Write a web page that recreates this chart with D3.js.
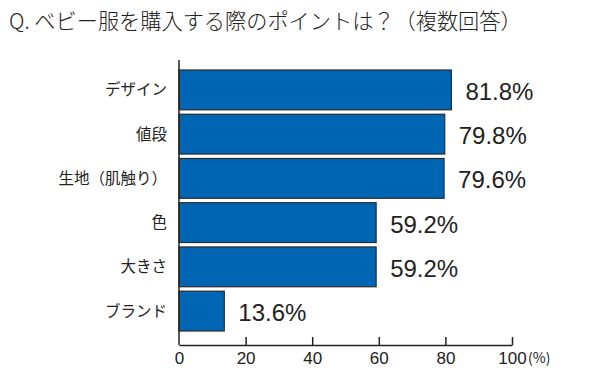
<!DOCTYPE html>
<html>
<head>
<meta charset="utf-8">
<script src="https://cdn.jsdelivr.net/npm/d3@7"></script>
<style>
  body { margin: 0; background: #fff; }
  svg { display: block; }
</style>
</head>
<body>
<div id="chart"></div>
<script>
const title = "Q. ベビー服を購入する際のポイントは？（複数回答）";
const categories = ["デザイン", "値段", "生地（肌触り）", "色", "大きさ", "ブランド"];
const values = [81.8, 79.8, 79.6, 59.2, 59.2, 13.6];
const ticks = [0, 20, 40, 60, 80, 100];

const width = 590, height = 378;
const jp = "'Noto Sans CJK JP', 'Noto Sans', sans-serif";
const num = "'Liberation Sans', Arial, sans-serif";

const svg = d3.select("#chart")
  .append("svg")
  .attr("width", width)
  .attr("height", height)
  .style("background-color", "white");

const x = d3.scaleLinear().domain([0, 100]).range([179, 512]);
const y = d3.scaleBand()
  .domain(categories)
  .range([67.8, 333.2])
  .paddingInner(0.1)
  .paddingOuter(0.05);

// title
svg.append("text")
  .attr("x", 9)
  .attr("y", 29)
  .style("font-family", jp)
  .style("font-size", "21.2px")
  .style("font-weight", 300)
  .attr("fill", "#222")
  .text(title);

// bars
svg.selectAll("rect.bar")
  .data(values)
  .enter()
  .append("rect")
  .attr("class", "bar")
  .attr("x", x(0))
  .attr("y", (d, i) => y(categories[i]))
  .attr("width", d => x(d) - x(0))
  .attr("height", y.bandwidth())
  .attr("fill", "#0066b3")
  .attr("stroke", "#2b2b2b")
  .attr("stroke-width", 1.2);

// value labels
svg.selectAll("text.val")
  .data(values)
  .enter()
  .append("text")
  .attr("class", "val")
  .attr("x", d => x(d) + 14)
  .attr("y", (d, i) => y(categories[i]) + y.bandwidth() / 2 + 10)
  .style("font-family", num)
  .style("font-size", "24px")
  .attr("fill", "#222")
  .text(d => d.toFixed(1) + "%");

// category labels
svg.selectAll("text.cat")
  .data(categories)
  .enter()
  .append("text")
  .attr("class", "cat")
  .attr("x", 167)
  .attr("y", d => y(d) + y.bandwidth() / 2 + 5.5)
  .attr("text-anchor", "end")
  .style("font-family", jp)
  .style("font-size", "15.5px")
  .attr("fill", "#222")
  .text(d => d);

// axes
const axisY = 345;
svg.append("line")
  .attr("x1", x(0)).attr("x2", x(0))
  .attr("y1", 60).attr("y2", axisY)
  .attr("stroke", "#222").attr("stroke-width", 1.5);

const xAxis = d3.axisBottom(x)
  .tickValues(ticks)
  .tickSizeInner(-8)
  .tickSizeOuter(0)
  .tickPadding(7)
  .tickFormat(d3.format("d"));

const gx = svg.append("g")
  .attr("transform", `translate(0,${axisY})`)
  .call(xAxis);
gx.select(".domain").attr("stroke", "#222").attr("stroke-width", 1.5);
gx.selectAll(".tick line").attr("stroke", "#222").attr("stroke-width", 1.5)
  .filter(d => d === 0).remove();
gx.selectAll(".tick text")
  .style("font-family", num)
  .style("font-size", "17px")
  .attr("fill", "#222");

svg.append("text")
  .attr("x", x(100) + 16)
  .attr("y", 363)
  .style("font-family", jp)
  .style("font-size", "14px")
  .attr("fill", "#222")
  .text("(%)");
</script>
</body>
</html>
